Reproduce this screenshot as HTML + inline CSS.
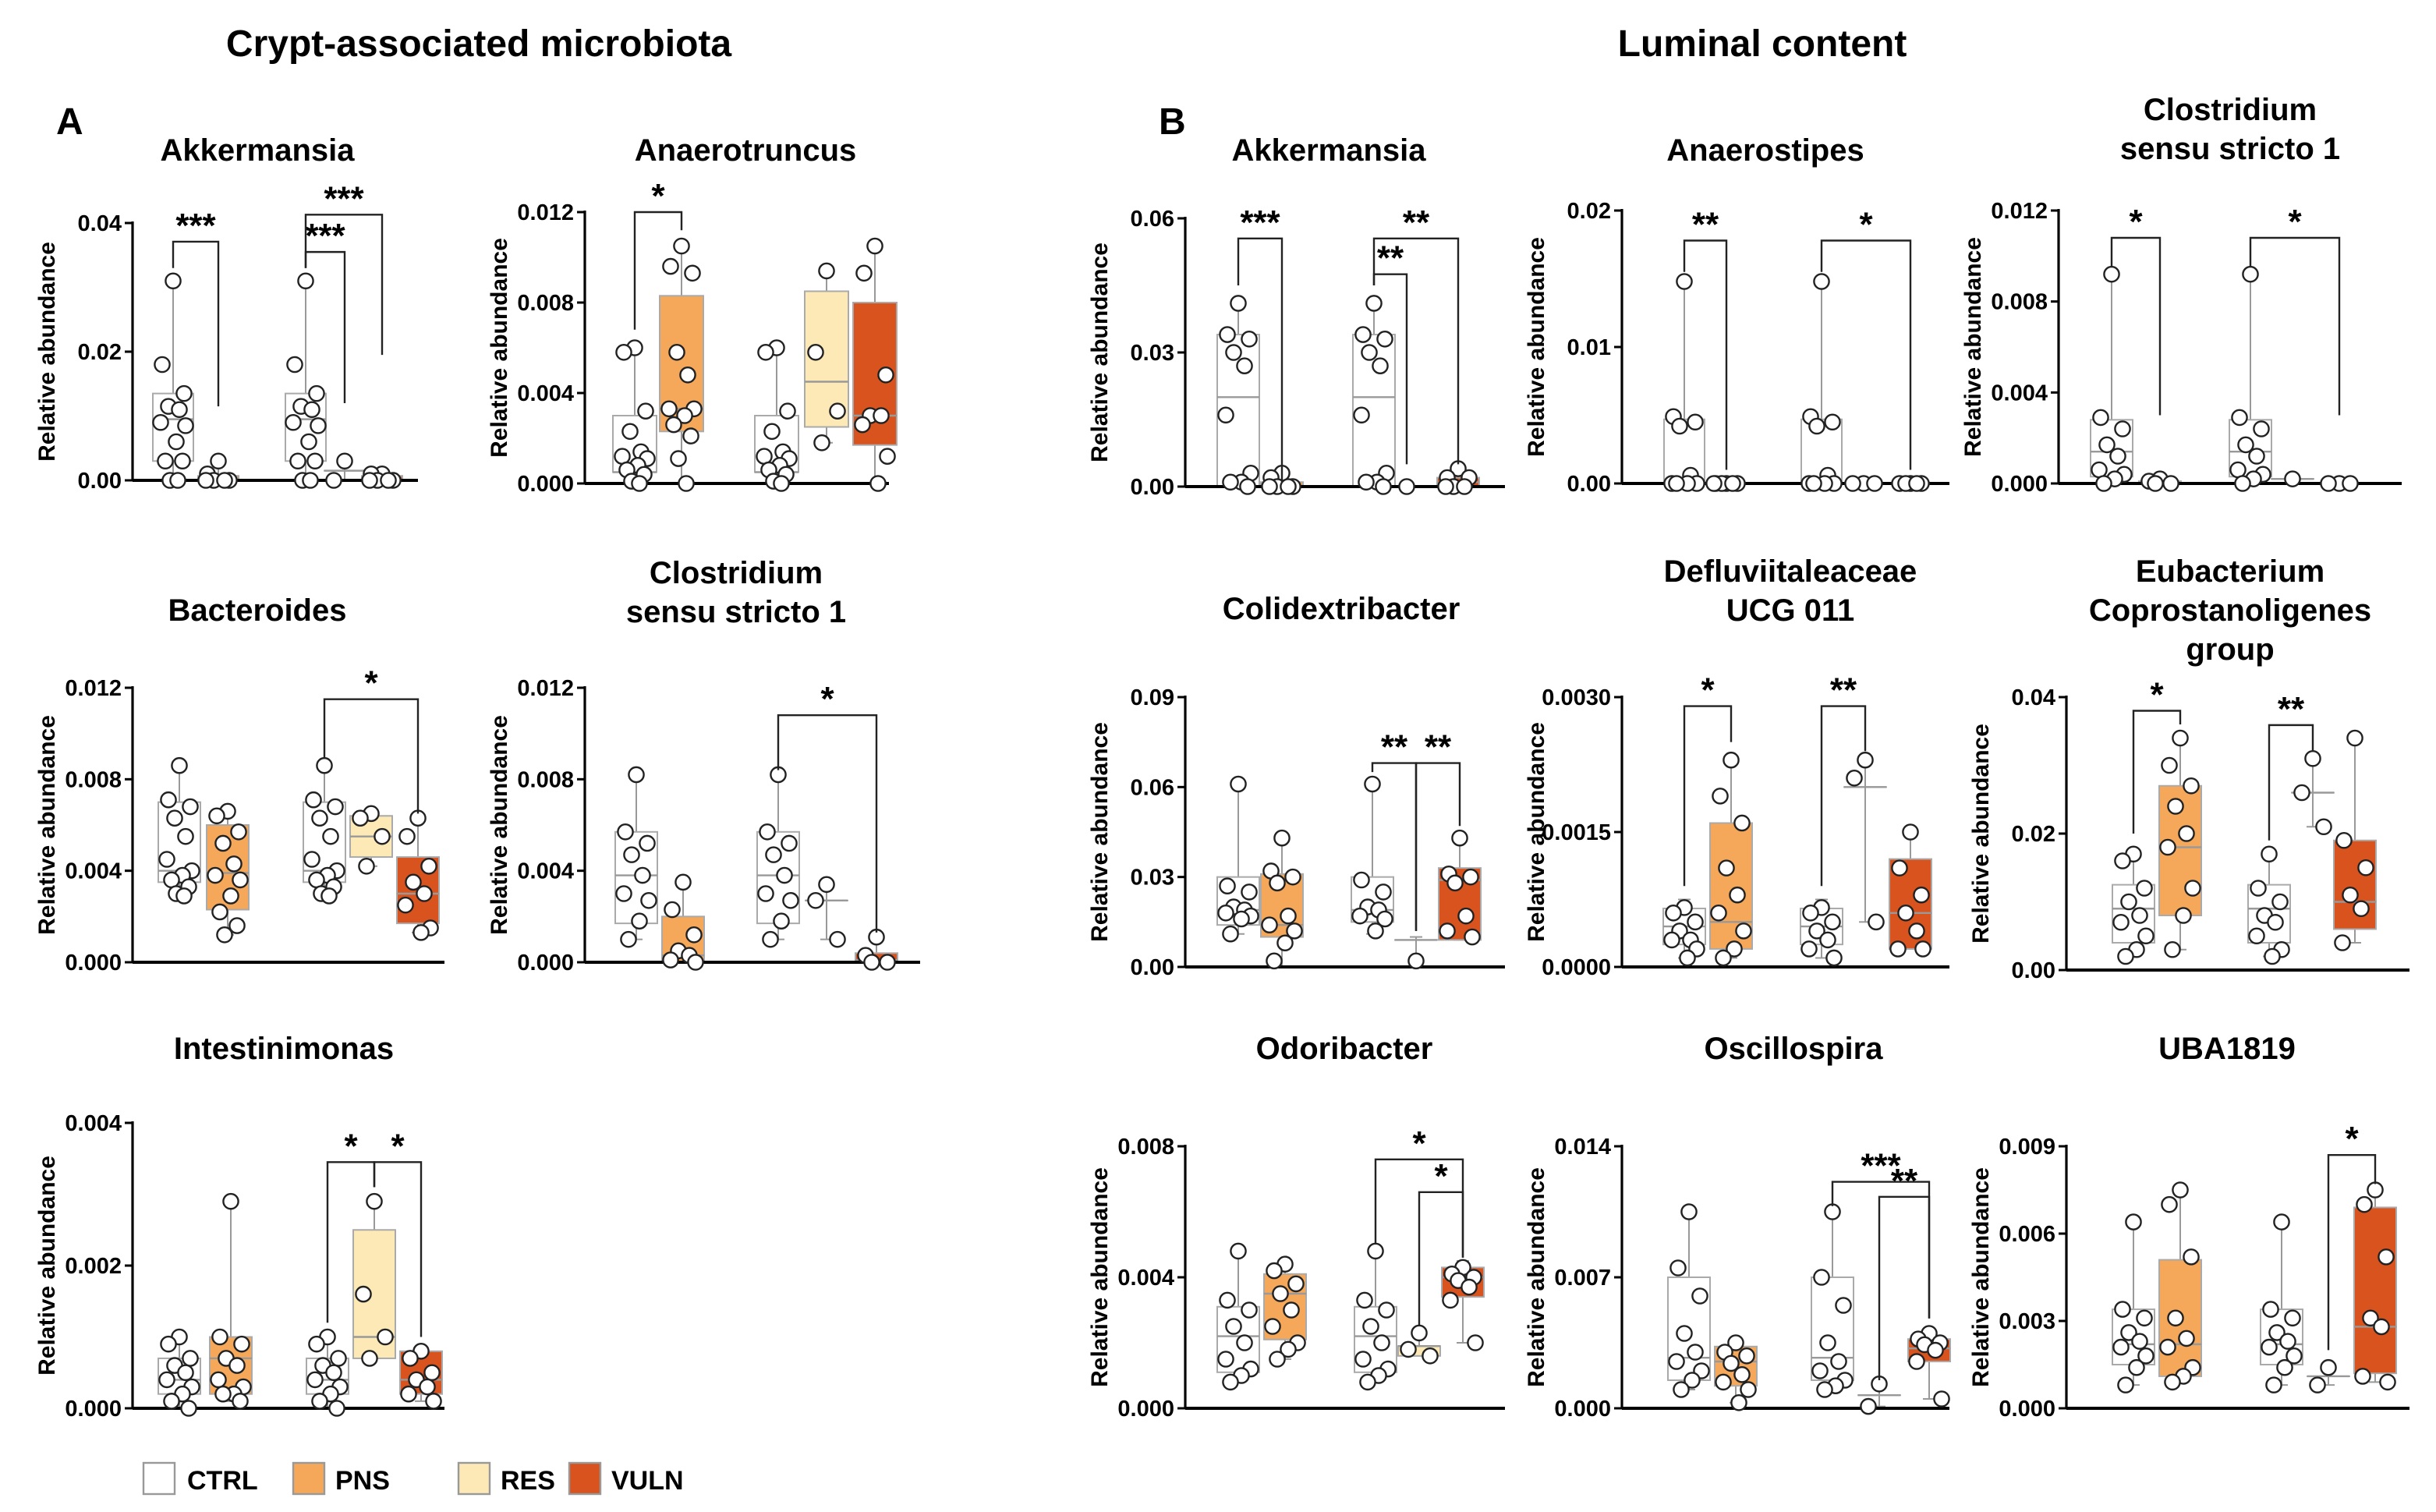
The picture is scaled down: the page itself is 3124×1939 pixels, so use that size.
<!DOCTYPE html>
<html><head><meta charset="utf-8">
<style>
html,body{margin:0;padding:0;background:#fff;}
svg{display:block;font-family:"Liberation Sans",Arial,sans-serif;}
</style></head>
<body>
<svg id="fig" width="3124" height="1939" viewBox="0 0 1562 969.5" xmlns="http://www.w3.org/2000/svg">
<text x="307" y="36" font-size="24" font-weight="bold" text-anchor="middle">Crypt-associated microbiota</text>
<text x="1130" y="36" font-size="24" font-weight="bold" text-anchor="middle">Luminal content</text>
<text x="36" y="86" font-size="24" font-weight="bold">A</text>
<text x="743" y="86" font-size="24" font-weight="bold">B</text>
<g font-size="17" font-weight="bold">
 <g><rect x="92" y="938" width="20" height="20" fill="#fff" stroke="#999" stroke-width="1.2"/><text x="120" y="955">CTRL</text></g>
 <g><rect x="188" y="938" width="20" height="20" fill="#F5A85A" stroke="#999" stroke-width="1.2"/><text x="215" y="955">PNS</text></g>
 <g><rect x="294" y="938" width="20" height="20" fill="#FCE9B6" stroke="#999" stroke-width="1.2"/><text x="321" y="955">RES</text></g>
 <g><rect x="365" y="938" width="20" height="20" fill="#D9531E" stroke="#999" stroke-width="1.2"/><text x="392" y="955">VULN</text></g>
</g>
</svg>
<script>
// ---- data ----
const groupNames = ["CTRL","PNS","CTRL","RES","VULN"];
// stats per group: [min, q1, median, q3, max]
const aAkkTitle=["Akkermansia"]; const aAkkTicks=[0,0.02,0.04]; const aAkkTickLabels=["0.00","0.02","0.04"];
const aAkkStats=[[0,0.003,0.0095,0.0135,0.031],[0,0,0,0.0007,0.003],[0,0.003,0.0095,0.0135,0.031],[0,0.0015,0.0015,0.0015,0.003],[0,0,0,0.0007,0.001]];
const aAkkPoints=[[0.031,0.018,0.0135,0.0115,0.011,0.009,0.0085,0.006,0.003,0.003,0,0],[0.003,0.001,0,0,0,0],[0.031,0.018,0.0135,0.0115,0.011,0.009,0.0085,0.006,0.003,0.003,0,0],[0.003,0],[0.001,0.001,0,0,0,0]];
const aAkkBrackets=[[0,1,0.0371,0.033,0.0115,"***"],[2,3,0.0355,0.033,0.012,"***"],[2,4,0.0413,0.033,0.0195,"***"]];

const aAnaTitle=["Anaerotruncus"]; const aAnaTicks=[0,0.004,0.008,0.012]; const aAnaTickLabels=["0.000","0.004","0.008","0.012"];
const aAnaStats=[[0,0.0005,0.0005,0.003,0.006],[0,0.0023,0.0033,0.0083,0.0105],[0,0.0005,0.0005,0.003,0.006],[0.0018,0.0025,0.0045,0.0085,0.0094],[0,0.0017,0.003,0.008,0.0105]];
const aAnaPoints=[[0.006,0.0058,0.0032,0.0023,0.0014,0.0012,0.0011,0.0008,0.0006,0.0004,0.0001,0],[0.0105,0.0096,0.0093,0.0058,0.0048,0.0033,0.0033,0.003,0.0026,0.0021,0.0011,0],[0.006,0.0058,0.0032,0.0023,0.0014,0.0012,0.0011,0.0008,0.0006,0.0004,0.0001,0],[0.0094,0.0058,0.0032,0.0018],[0.0105,0.0093,0.0048,0.003,0.003,0.0026,0.0012,0]];
const aAnaBrackets=[[0,1,0.012,0.0068,0.0112,"*"]];

const aBacTitle=["Bacteroides"]; const aBacTicks=[0,0.004,0.008,0.012]; const aBacTickLabels=["0.000","0.004","0.008","0.012"];
const aBacStats=[[0.0028,0.0035,0.004,0.007,0.0086],[0.0012,0.0023,0.0039,0.006,0.0066],[0.0028,0.0035,0.004,0.007,0.0086],[0.0042,0.0046,0.0055,0.0064,0.0065],[0.0013,0.0017,0.003,0.0046,0.0063]];
const aBacPoints=[[0.0086,0.0071,0.0068,0.0063,0.0055,0.0045,0.004,0.0038,0.0036,0.0033,0.003,0.0029],[0.0066,0.0064,0.0057,0.0052,0.0043,0.0038,0.0036,0.0029,0.0022,0.0016,0.0012],[0.0086,0.0071,0.0068,0.0063,0.0055,0.0045,0.004,0.0038,0.0036,0.0033,0.003,0.0029],[0.0065,0.0063,0.0055,0.0042],[0.0063,0.0055,0.0042,0.0035,0.003,0.0025,0.0015,0.0013]];
const aBacBrackets=[[2,4,0.0115,0.0089,0.0065,"*"]];

const aCloTitle=["Clostridium","sensu stricto 1"]; const aCloTicks=[0,0.004,0.008,0.012]; const aCloTickLabels=["0.000","0.004","0.008","0.012"];
const aCloStats=[[0.001,0.0017,0.0038,0.0057,0.0082],[0,0,0.0003,0.002,0.0035],[0.001,0.0017,0.0038,0.0057,0.0082],[0.001,0.0027,0.0027,0.0027,0.0034],[0,0,0.0001,0.0004,0.0011]];
const aCloPoints=[[0.0082,0.0057,0.0052,0.0047,0.0038,0.003,0.0027,0.0018,0.001],[0.0035,0.0023,0.0012,0.0005,0.0003,0.0001,0],[0.0082,0.0057,0.0052,0.0047,0.0038,0.003,0.0027,0.0018,0.001],[0.0034,0.0027,0.001],[0.0011,0.0003,0,0]];
const aCloBrackets=[[2,4,0.0108,0.0084,0.0013,"*"]];

const aIntTitle=["Intestinimonas"]; const aIntTicks=[0,0.002,0.004]; const aIntTickLabels=["0.000","0.002","0.004"];
const aIntStats=[[0,0.0002,0.0004,0.0007,0.00105],[0.0001,0.0002,0.0007,0.001,0.0029],[0,0.0002,0.0004,0.0007,0.00105],[0.0007,0.0007,0.001,0.0025,0.0029],[0.0001,0.0002,0.0004,0.0008,0.0008]];
const aIntPoints=[[0.001,0.0009,0.0007,0.0006,0.0005,0.0004,0.0003,0.0002,0.0001,0],[0.0029,0.001,0.0009,0.0007,0.0006,0.0004,0.0003,0.0002,0.0002,0.0001],[0.001,0.0009,0.0007,0.0006,0.0005,0.0004,0.0003,0.0002,0.0001,0],[0.0029,0.0016,0.001,0.0007],[0.0008,0.0007,0.0005,0.0004,0.0003,0.0002,0.0001]];
const aIntBrackets=[[2,3,0.00345,0.0012,0.0031,"*"],[3,4,0.00345,0.0031,0.001,"*"]];

const bAkkTitle=["Akkermansia"]; const bAkkTicks=[0,0.03,0.06]; const bAkkTickLabels=["0.00","0.03","0.06"];
const bAkkStats=[[0,0,0.02,0.034,0.041],[0,0,0,0.001,0.003],[0,0,0.02,0.034,0.041],[0,0,0,0,0],[0,0,0.001,0.002,0.004]];
const bAkkPoints=[[0.041,0.034,0.033,0.03,0.027,0.016,0.003,0.001,0.001,0],[0.003,0.002,0,0,0,0],[0.041,0.034,0.033,0.03,0.027,0.016,0.003,0.001,0.001,0],[0],[0.004,0.002,0.002,0,0,0]];
const bAkkBrackets=[[0,1,0.0555,0.045,0.001,"***"],[2,4,0.0555,0.045,0.005,"**"],[2,3,0.0475,0.045,0.005,"**"]];

const bAnsTitle=["Anaerostipes"]; const bAnsTicks=[0,0.01,0.02]; const bAnsTickLabels=["0.00","0.01","0.02"];
const bAnsStats=[[0,0,0.0001,0.0047,0.0148],[0,0,0,0,0],[0,0,0.0001,0.0047,0.0148],[0,0,0,0,0],[0,0,0,0,0]];
const bAnsPoints=[[0.0148,0.0049,0.0045,0.0042,0.0006,0,0,0,0],[0,0,0,0,0,0],[0.0148,0.0049,0.0045,0.0042,0.0006,0,0,0,0],[0,0,0],[0,0,0,0,0]];
const bAnsBrackets=[[0,1,0.0178,0.0155,0.001,"**"],[2,4,0.0178,0.0155,0.001,"*"]];

const bCloTitle=["Clostridium","sensu stricto 1"]; const bCloTicks=[0,0.004,0.008,0.012]; const bCloTickLabels=["0.000","0.004","0.008","0.012"];
const bCloStats=[[0,0.0003,0.0014,0.0028,0.0092],[0,0,0,0.0001,0.0002],[0,0.0003,0.0014,0.0028,0.0092],[0.0002,0.0002,0.0002,0.0002,0.0002],[0,0,0,0,0]];
const bCloPoints=[[0.0092,0.0029,0.0024,0.0017,0.0012,0.0006,0.0004,0.0002,0],[0.0002,0.0001,0,0],[0.0092,0.0029,0.0024,0.0017,0.0012,0.0006,0.0004,0.0002,0],[0.0002],[0,0,0]];
const bCloBrackets=[[0,1,0.0108,0.0095,0.003,"*"],[2,4,0.0108,0.0095,0.003,"*"]];

const bColTitle=["Colidextribacter"]; const bColTicks=[0,0.03,0.06,0.09]; const bColTickLabels=["0.00","0.03","0.06","0.09"];
const bColStats=[[0.011,0.014,0.019,0.03,0.061],[0,0.01,0.014,0.031,0.043],[0.011,0.015,0.019,0.03,0.061],[0.002,0.009,0.009,0.009,0.01],[0.009,0.009,0.029,0.033,0.043]];
const bColPoints=[[0.061,0.027,0.025,0.02,0.019,0.018,0.017,0.016,0.011],[0.043,0.032,0.03,0.028,0.017,0.014,0.012,0.008,0.002],[0.061,0.029,0.025,0.02,0.019,0.017,0.016,0.012],[0.002],[0.043,0.031,0.03,0.028,0.017,0.012,0.01]];
const bColBrackets=[[2,3,0.068,0.065,0.012,"**"],[3,4,0.068,0.012,0.047,"**"]];

const bDefTitle=["Defluviitaleaceae","UCG 011"]; const bDefTicks=[0,0.0015,0.003]; const bDefTickLabels=["0.0000","0.0015","0.0030"];
const bDefStats=[[0.0001,0.00025,0.00045,0.00065,0.00075],[0.0001,0.0002,0.0005,0.0016,0.0023],[0.0001,0.00025,0.00045,0.00065,0.00075],[0.0005,0.002,0.002,0.002,0.0023],[0.0002,0.0002,0.0006,0.0012,0.0015]];
const bDefPoints=[[0.00066,0.0006,0.0005,0.0004,0.0003,0.0003,0.0002,0.0001],[0.0023,0.0019,0.0016,0.0011,0.0008,0.0006,0.0004,0.0002,0.0001],[0.00066,0.0006,0.0005,0.0004,0.0003,0.0002,0.0001],[0.0023,0.0021,0.0005],[0.0015,0.0011,0.0008,0.0006,0.0004,0.0002,0.0002]];
const bDefBrackets=[[0,1,0.0029,0.0009,0.0025,"*"],[2,3,0.0029,0.0009,0.0024,"**"]];

const bEubTitle=["Eubacterium","Coprostanoligenes","group"]; const bEubTicks=[0,0.02,0.04]; const bEubTickLabels=["0.00","0.02","0.04"];
const bEubStats=[[0.002,0.004,0.009,0.0125,0.017],[0.003,0.008,0.018,0.027,0.034],[0.002,0.004,0.009,0.0125,0.017],[0.021,0.026,0.026,0.026,0.031],[0.004,0.006,0.01,0.019,0.034]];
const bEubPoints=[[0.017,0.016,0.012,0.01,0.008,0.007,0.005,0.003,0.002],[0.034,0.03,0.027,0.024,0.02,0.018,0.012,0.008,0.003],[0.017,0.012,0.01,0.008,0.007,0.005,0.003,0.002],[0.031,0.026,0.021],[0.034,0.019,0.015,0.011,0.009,0.004]];
const bEubBrackets=[[0,1,0.038,0.02,0.036,"*"],[2,3,0.0359,0.019,0.032,"**"]];

const bOdoTitle=["Odoribacter"]; const bOdoTicks=[0,0.004,0.008]; const bOdoTickLabels=["0.000","0.004","0.008"];
const bOdoStats=[[0.0008,0.0011,0.0022,0.0031,0.0048],[0.0015,0.0021,0.0035,0.0041,0.0044],[0.0008,0.0011,0.0022,0.0031,0.0048],[0.0016,0.0016,0.0019,0.0019,0.0023],[0.002,0.0034,0.004,0.0043,0.0045]];
const bOdoPoints=[[0.0048,0.0033,0.003,0.0025,0.002,0.0015,0.0012,0.001,0.0008],[0.0044,0.0042,0.0038,0.0035,0.003,0.0025,0.002,0.0018,0.0015],[0.0048,0.0033,0.003,0.0025,0.002,0.0015,0.0012,0.001,0.0008],[0.0023,0.0018,0.0016],[0.0043,0.0041,0.004,0.0039,0.0037,0.0033,0.002]];
const bOdoBrackets=[[2,4,0.0076,0.005,0.0046,"*"],[3,4,0.0066,0.0025,0.0046,"*"]];

const bOscTitle=["Oscillospira"]; const bOscTicks=[0,0.007,0.014]; const bOscTickLabels=["0.000","0.007","0.014"];
const bOscStats=[[0.001,0.0015,0.0027,0.007,0.0105],[0.0003,0.0012,0.0025,0.0033,0.0035],[0.001,0.0015,0.0027,0.007,0.0105],[0.0001,0.0007,0.0007,0.0007,0.0013],[0.0005,0.0025,0.0032,0.0037,0.0042]];
const bOscPoints=[[0.0105,0.0075,0.006,0.004,0.003,0.0025,0.002,0.0015,0.001],[0.0035,0.003,0.0028,0.0024,0.0018,0.0014,0.001,0.0003],[0.0105,0.007,0.0055,0.0035,0.0025,0.002,0.0015,0.0012,0.001],[0.0013,0.0001],[0.004,0.0037,0.0035,0.0034,0.0031,0.0025,0.0005]];
const bOscBrackets=[[2,4,0.0121,0.0108,0.0048,"***"],[3,4,0.0113,0.0015,0.0048,"**"]];

const bUbaTitle=["UBA1819"]; const bUbaTicks=[0,0.003,0.006,0.009]; const bUbaTickLabels=["0.000","0.003","0.006","0.009"];
const bUbaStats=[[0.0008,0.0015,0.0022,0.0034,0.0064],[0.0009,0.0011,0.0022,0.0051,0.0075],[0.0008,0.0015,0.0022,0.0034,0.0064],[0.0008,0.0011,0.0011,0.0011,0.0014],[0.0009,0.0012,0.0028,0.0069,0.0075]];
const bUbaPoints=[[0.0064,0.0034,0.0031,0.0026,0.0023,0.0021,0.0018,0.0014,0.0008],[0.0075,0.007,0.0052,0.0031,0.0024,0.0021,0.0014,0.0011,0.0009],[0.0064,0.0034,0.0031,0.0026,0.0023,0.0021,0.0018,0.0014,0.0008],[0.0014,0.0008],[0.0075,0.007,0.0052,0.0031,0.0028,0.0011,0.0009]];
const bUbaBrackets=[[3,4,0.0087,0.002,0.0077,"*"]];

// ---- layout (pixel geometry, display units) ----
const colors=["#FFFFFF","#F5A85A","#FFFFFF","#FCE9B6","#D9531E"];
const layout=[
 {id:"a-akkermansia",t:aAkkTitle,tk:aAkkTicks,tl:aAkkTickLabels,s:aAkkStats,p:aAkkPoints,b:aAkkBrackets,ax:85,xe:268,yt:143,y0:308,tx:165,ty:103,gx:[111,140,196,221,245],bw:26},
 {id:"a-anaerotruncus",t:aAnaTitle,tk:aAnaTicks,tl:aAnaTickLabels,s:aAnaStats,p:aAnaPoints,b:aAnaBrackets,ax:375,xe:570,yt:136,y0:310,tx:478,ty:103,gx:[407,437,498,530,561],bw:28},
 {id:"a-bacteroides",t:aBacTitle,tk:aBacTicks,tl:aBacTickLabels,s:aBacStats,p:aBacPoints,b:aBacBrackets,ax:85,xe:285,yt:441,y0:617,tx:165,ty:398,gx:[115,146,208,238,268],bw:27},
 {id:"a-clostridium",t:aCloTitle,tk:aCloTicks,tl:aCloTickLabels,s:aCloStats,p:aCloPoints,b:aCloBrackets,ax:375,xe:590,yt:441,y0:617,tx:472,ty:374,gx:[408,438,499,530,562],bw:27},
 {id:"a-intestinimonas",t:aIntTitle,tk:aIntTicks,tl:aIntTickLabels,s:aIntStats,p:aIntPoints,b:aIntBrackets,ax:85,xe:285,yt:720,y0:903,tx:182,ty:679,gx:[115,148,210,240,270],bw:27},
 {id:"b-akkermansia",t:bAkkTitle,tk:bAkkTicks,tl:bAkkTickLabels,s:bAkkStats,p:bAkkPoints,b:bAkkBrackets,ax:760,xe:965,yt:140,y0:312,tx:852,ty:103,gx:[794,822,881,902,935],bw:27},
 {id:"b-anaerostipes",t:bAnsTitle,tk:bAnsTicks,tl:bAnsTickLabels,s:bAnsStats,p:bAnsPoints,b:bAnsBrackets,ax:1040,xe:1250,yt:135,y0:310,tx:1132,ty:103,gx:[1080,1107,1168,1195,1225],bw:26},
 {id:"b-clostridium",t:bCloTitle,tk:bCloTicks,tl:bCloTickLabels,s:bCloStats,p:bCloPoints,b:bCloBrackets,ax:1320,xe:1540,yt:135,y0:310,tx:1430,ty:77,gx:[1354,1385,1443,1470,1500],bw:27},
 {id:"b-colidextribacter",t:bColTitle,tk:bColTicks,tl:bColTickLabels,s:bColStats,p:bColPoints,b:bColBrackets,ax:760,xe:965,yt:447,y0:620,tx:860,ty:397,gx:[794,822,880,908,936],bw:27},
 {id:"b-defluviitaleaceae",t:bDefTitle,tk:bDefTicks,tl:bDefTickLabels,s:bDefStats,p:bDefPoints,b:bDefBrackets,ax:1040,xe:1250,yt:447,y0:620,tx:1148,ty:373,gx:[1080,1110,1168,1196,1225],bw:27},
 {id:"b-eubacterium",t:bEubTitle,tk:bEubTicks,tl:bEubTickLabels,s:bEubStats,p:bEubPoints,b:bEubBrackets,ax:1325,xe:1545,yt:447,y0:622,tx:1430,ty:373,gx:[1368,1398,1455,1483,1510],bw:27},
 {id:"b-odoribacter",t:bOdoTitle,tk:bOdoTicks,tl:bOdoTickLabels,s:bOdoStats,p:bOdoPoints,b:bOdoBrackets,ax:760,xe:965,yt:735,y0:903,tx:862,ty:679,gx:[794,824,882,910,938],bw:27},
 {id:"b-oscillospira",t:bOscTitle,tk:bOscTicks,tl:bOscTickLabels,s:bOscStats,p:bOscPoints,b:bOscBrackets,ax:1040,xe:1250,yt:735,y0:903,tx:1150,ty:679,gx:[1083,1113,1175,1205,1237],bw:27},
 {id:"b-uba1819",t:bUbaTitle,tk:bUbaTicks,tl:bUbaTickLabels,s:bUbaStats,p:bUbaPoints,b:bUbaBrackets,ax:1325,xe:1545,yt:735,y0:903,tx:1428,ty:679,gx:[1368,1398,1463,1493,1523],bw:27}
];
const NS="http://www.w3.org/2000/svg";
const svg=document.getElementById("fig");
function mk(tag,attrs,parent){const e=document.createElementNS(NS,tag);for(const k in attrs)e.setAttribute(k,attrs[k]);parent.appendChild(e);return e;}
const jit=[0,-7,7,-3,4,-8,8,2,-5,6,-2,3];
layout.forEach(P=>{
 const ymax=P.tk[P.tk.length-1];
 const y=v=>P.y0-v/ymax*(P.y0-P.yt);
 const g=mk("g",{},svg);
 
 
 P.t.forEach((line,i)=>{const t=mk("text",{x:P.tx,y:P.ty+i*25,"font-size":20,"font-weight":"bold","text-anchor":"middle"},g);t.textContent=line;
  
  });
 const yt=mk("text",{transform:`translate(${P.ax-50},${(P.yt+P.y0)/2}) rotate(-90)`,"font-size":15,"font-weight":"bold","text-anchor":"middle"},g);
 yt.textContent="Relative abundance";
 
 
 P.tk.forEach((v,i)=>{
  mk("line",{x1:P.ax-5,x2:P.ax,y1:y(v),y2:y(v),stroke:"#000","stroke-width":1.5},g);
  const tl=mk("text",{x:P.ax-7,y:y(v)+5,"font-size":14.5,"font-weight":"bold","text-anchor":"end"},g);
  tl.textContent=P.tl[i];
  
  
 });
 P.s.forEach((st,gi)=>{
  const cx=P.gx[gi],hw=P.bw/2;
  const bg=mk("g",{},g);
  
  
  mk("line",{x1:cx,x2:cx,y1:y(st[0]),y2:y(st[4]),stroke:"#999","stroke-width":1},bg);
  mk("line",{x1:cx-4,x2:cx+4,y1:y(st[4]),y2:y(st[4]),stroke:"#999","stroke-width":1},bg);
  mk("line",{x1:cx-4,x2:cx+4,y1:y(st[0]),y2:y(st[0]),stroke:"#999","stroke-width":1},bg);
  mk("rect",{x:cx-hw,y:y(st[3]),width:P.bw,height:Math.max(0.01,y(st[1])-y(st[3])),fill:colors[gi],stroke:"#aaa","stroke-width":1},bg);
  mk("line",{x1:cx-hw,x2:cx+hw,y1:y(st[2]),y2:y(st[2]),stroke:"#999","stroke-width":1.2},bg);
 });
 mk("line",{x1:P.ax,x2:P.ax,y1:P.yt-1,y2:P.y0,stroke:"#000","stroke-width":1.6},g);
 mk("line",{x1:P.ax,x2:P.xe,y1:P.y0,y2:P.y0,stroke:"#000","stroke-width":2},g);
 P.p.forEach((arr,gi)=>{
  arr.forEach((v,i)=>{
   const c=mk("circle",{cx:P.gx[gi]+(arr.length>1?jit[i%jit.length]:0),cy:y(v),r:4.8,fill:"#fff",stroke:"#222","stroke-width":1.2},g);
   
   
  });
 });
 P.b.forEach(br=>{
  const x1=P.gx[br[0]],x2=P.gx[br[1]],yy=y(br[2]);
  const bk=mk("g",{},g);
  
  
  mk("polyline",{points:`${x1},${y(br[3])} ${x1},${yy} ${x2},${yy} ${x2},${y(br[4])}`,fill:"none",stroke:"#222","stroke-width":1.2},bk);
  const st=mk("text",{x:(x1+x2)/2,y:yy-3,"font-size":22,"font-weight":"bold","text-anchor":"middle"},bk);
  st.textContent=br[5];
 });
});
</script>
</body></html>
